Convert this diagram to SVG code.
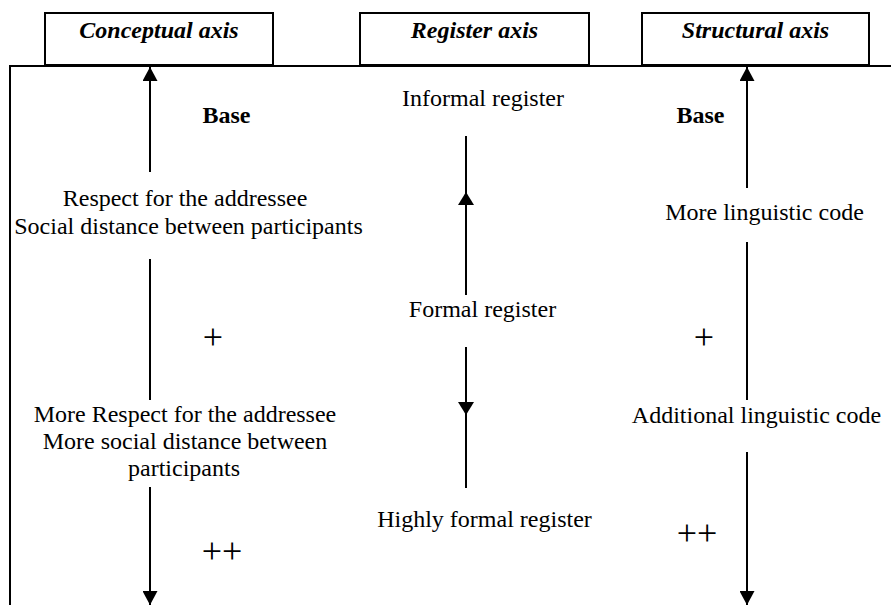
<svg xmlns="http://www.w3.org/2000/svg" width="891" height="605" viewBox="0 0 891 605">
<style>
.box{fill:#fff;stroke:#000;stroke-width:2}
.hdr{font-family:"Liberation Serif",serif;font-style:italic;font-weight:bold;font-size:24px;text-anchor:middle;fill:#000}
.t{font-family:"Liberation Serif",serif;font-size:24px;text-anchor:middle;fill:#000}
.b{font-weight:bold}
.p{font-family:"Liberation Serif",serif;font-size:36px;text-anchor:middle;fill:#000}
.ln{stroke:#000;stroke-width:2;fill:none}
.ah{fill:#000}
</style>
<defs>
<marker id="arr" markerUnits="userSpaceOnUse" markerWidth="15" markerHeight="15" refX="14" refY="7.5" orient="auto">
<path d="M0,0 L14,7.5 L0,15 z" fill="#000"/>
</marker>
</defs>
<rect width="891" height="605" fill="#fff"/>
<path id="frame" class="ln" d="M10,605 V66 H891"/>
<g id="hdr-conceptual">
<rect class="box" x="45" y="13" width="228" height="52"/>
<text class="hdr" x="159" y="38">Conceptual axis</text>
</g>
<g id="hdr-register">
<rect class="box" x="360" y="13" width="229" height="52"/>
<text class="hdr" x="474.5" y="38">Register axis</text>
</g>
<g id="hdr-structural">
<rect class="box" x="642" y="13" width="227" height="52"/>
<text class="hdr" x="755.5" y="38">Structural axis</text>
</g>
<g id="connectors">
<line class="ln" x1="150" y1="172" x2="150" y2="67" marker-end="url(#arr)"/>
<line class="ln" x1="150" y1="259" x2="150" y2="400"/>
<line class="ln" x1="150" y1="487" x2="150" y2="605" marker-end="url(#arr)"/>
<line class="ln" x1="466" y1="136" x2="466" y2="295"/>
<polygon class="ah" points="466,192 458,205 474,205"/>
<line class="ln" x1="466" y1="347" x2="466" y2="488"/>
<polygon class="ah" points="466,415 458,402 474,402"/>
<line class="ln" x1="747" y1="188" x2="747" y2="67" marker-end="url(#arr)"/>
<line class="ln" x1="747" y1="242" x2="747" y2="400"/>
<line class="ln" x1="747" y1="452" x2="747" y2="605" marker-end="url(#arr)"/>
</g>
<g id="conceptual-base"><text class="t b" x="226.5" y="123">Base</text></g>
<g id="conceptual-1">
<text class="t" x="185" y="206">Respect for the addressee</text>
<text class="t" x="188.5" y="234">Social distance between participants</text>
</g>
<g id="conceptual-plus"><text class="p" x="213" y="349">+</text></g>
<g id="conceptual-2">
<text class="t" x="185" y="422">More Respect for the addressee</text>
<text class="t" x="185" y="449">More social distance between</text>
<text class="t" x="184" y="476">participants</text>
</g>
<g id="conceptual-plusplus"><text class="p" x="222" y="563">++</text></g>
<g id="register-informal"><text class="t" x="483" y="106">Informal register</text></g>
<g id="register-formal"><text class="t" x="482.5" y="317">Formal register</text></g>
<g id="register-highly"><text class="t" x="484.5" y="527">Highly formal register</text></g>
<g id="structural-base"><text class="t b" x="700.5" y="123">Base</text></g>
<g id="structural-1"><text class="t" x="764.5" y="220">More linguistic code</text></g>
<g id="structural-plus"><text class="p" x="704" y="349">+</text></g>
<g id="structural-2"><text class="t" x="756.5" y="423">Additional linguistic code</text></g>
<g id="structural-plusplus"><text class="p" x="697" y="545">++</text></g>
</svg>
